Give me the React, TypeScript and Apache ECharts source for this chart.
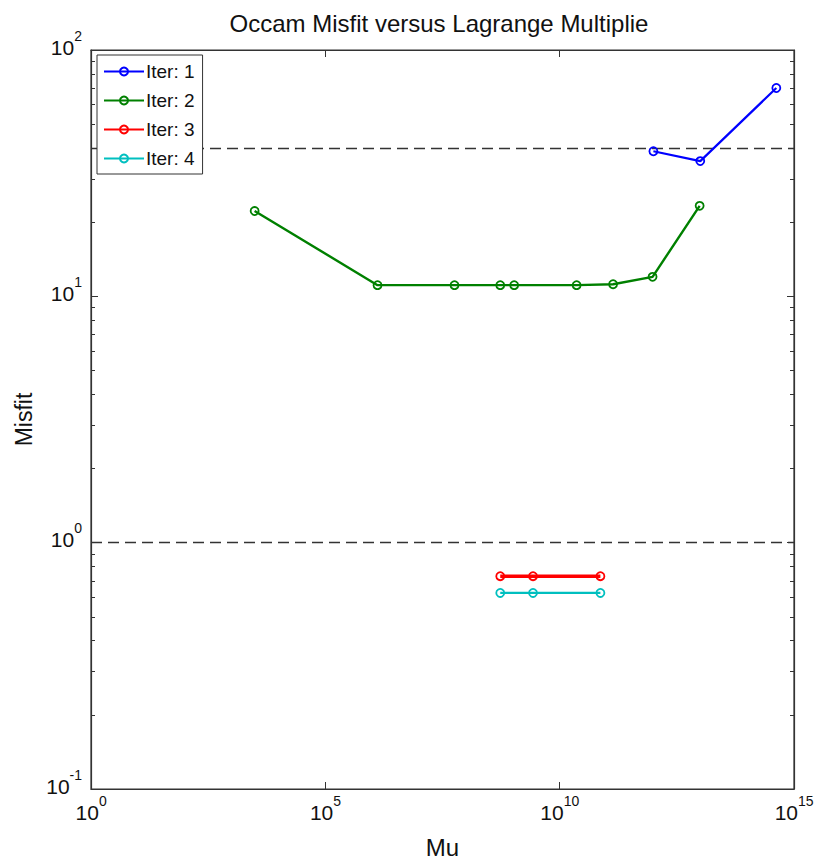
import React, { useEffect, useRef } from "react";
import * as echarts from "echarts";

const mu1 = [1e12, 1e13, 4.2e14];
const misfit1 = [38.8, 35.4, 70.1];
const mu2 = [3.1e3, 1.3e6, 5.7e7, 5.4e8, 1.07e9, 2.3e10, 1.38e11, 9.6e11, 9.7e12];
const misfit2 = [22.2, 11.1, 11.1, 11.1, 11.1, 11.1, 11.2, 12.0, 23.3];
const mu3 = [5.4e8, 2.7e9, 7.4e10];
const misfit3 = [0.731, 0.731, 0.731];
const mu4 = [5.4e8, 2.7e9, 7.4e10];
const misfit4 = [0.625, 0.625, 0.625];
const targetLines = [40, 1];

const seriesNames = ["Iter: 1", "Iter: 2", "Iter: 3", "Iter: 4"];
const xTicks = [1, 1e5, 1e10, 1e15];
const yTicks = [0.1, 1, 10, 100];
const yMinorTicks = [
  0.2, 0.3, 0.4, 0.5, 0.6, 0.7, 0.8, 0.9,
  2, 3, 4, 5, 6, 7, 8, 9,
  20, 30, 40, 50, 60, 70, 80, 90,
];

const FONT = "'Liberation Sans', Arial, Helvetica, sans-serif";
const AXIS_COLOR = "#333";

// log-scale extents suffer float rounding (log(1e15)/log(10) < 15), so nudge edge values inward a hair
const nudge = (vals: number[]) =>
  vals.map((v, i) => (i === vals.length - 1 ? v * (1 - 1e-9) : i === 0 ? v * (1 + 1e-9) : v));

const powLabel = (v: number) => `{s| }{b|10}{e|${Math.round(Math.log10(v))}}`;
const powRich = {
  b: { fontSize: 21, fontFamily: FONT, color: "#111", lineHeight: 20, verticalAlign: "bottom" },
  e: { fontSize: 14, fontFamily: FONT, color: "#111", lineHeight: 14, verticalAlign: "top" },
  s: { fontSize: 1, lineHeight: 29, verticalAlign: "top" },
};

const pairs = (xs: number[], ys: number[]) => xs.map((x, i) => [x, ys[i]]);

export default function App() {
  const ref = useRef<HTMLDivElement>(null);
  useEffect(() => {
    if (!ref.current) return;
    const chart = echarts.init(ref.current, null, { renderer: "svg" });
    const mkSeries = (name: string, xs: number[], ys: number[], color: string, width: number, extra: any = {}) => ({
      name,
      type: "line",
      data: pairs(xs, ys),
      symbol: "circle",
      symbolSize: 8,
      showSymbol: true,
      lineStyle: { color, width },
      itemStyle: { color: "rgba(255,255,255,0)", borderColor: color, borderWidth: 1.8 },
      emphasis: { disabled: true },
      z: 3,
      ...extra,
    });
    const baseX = {
      type: "log",
      logBase: 10,
      min: 1,
      max: 1e15,
      splitLine: { show: false },
      axisLine: { show: true, lineStyle: { color: AXIS_COLOR, width: 1.2 } },
    };
    const baseY = {
      type: "log",
      logBase: 10,
      min: 0.1,
      max: 100,
      splitLine: { show: false },
    };
    chart.setOption({
      animation: false,
      backgroundColor: "#fff",
      title: {
        text: "Occam Misfit versus Lagrange Multiplie",
        left: 434,
        textAlign: "center",
        top: 6,
        textStyle: { fontFamily: FONT, fontSize: 24, fontWeight: "normal", color: "#111" },
      },
      legend: {
        data: seriesNames,
        orient: "vertical",
        left: 97,
        top: 55,
        padding: [7, 8, 6, 6],
        itemGap: 10,
        itemWidth: 40,
        itemHeight: 10,
        backgroundColor: "#fff",
        borderColor: AXIS_COLOR,
        borderWidth: 1,
        textStyle: { fontFamily: FONT, fontSize: 19, color: "#111", padding: [0, 0, 0, -3] },
      },
      grid: {
        left: 91,
        right: 22,
        top: 50,
        bottom: 75,
        show: true,
        borderColor: AXIS_COLOR,
        borderWidth: 1.2,
        containLabel: false,
        outerBoundsMode: "none",
      },
      xAxis: [
        {
          ...baseX,
          position: "bottom",
          name: "Mu",
          nameLocation: "middle",
          nameGap: 46,
          nameTextStyle: { fontFamily: FONT, fontSize: 24, color: "#111" },
          axisTick: { show: true, inside: true, length: 7, customValues: nudge(xTicks), lineStyle: { color: AXIS_COLOR } },
          axisLabel: {
            show: true,
            customValues: nudge(xTicks),
            formatter: powLabel,
            rich: powRich,
            margin: 5,
            overflow: "none",
            showMaxLabel: true,
            showMinLabel: true,
            hideOverlap: false,
          },
        },
        {
          ...baseX,
          position: "top",
          axisTick: { show: true, inside: true, length: 7, customValues: nudge(xTicks), lineStyle: { color: AXIS_COLOR } },
          axisLabel: { show: false },
        },
      ],
      yAxis: [
        {
          ...baseY,
          position: "left",
          name: "Misfit",
          nameLocation: "middle",
          nameGap: 50,
          nameTextStyle: { fontFamily: FONT, fontSize: 23, color: "#111" },
          axisLine: { show: true, lineStyle: { color: AXIS_COLOR, width: 1.2 } },
          axisTick: { show: true, inside: true, length: 7, customValues: nudge(yTicks), lineStyle: { color: AXIS_COLOR } },
          axisLabel: {
            show: true,
            customValues: nudge(yTicks),
            formatter: powLabel,
            rich: powRich,
            margin: 9,
            padding: [0, 0, 14, 0],
            overflow: "none",
            showMaxLabel: true,
            showMinLabel: true,
            hideOverlap: false,
          },
        },
        {
          ...baseY,
          position: "left",
          axisLine: { show: false },
          axisTick: { show: true, inside: true, length: 4, customValues: yMinorTicks, lineStyle: { color: AXIS_COLOR } },
          axisLabel: { show: false },
        },
        {
          ...baseY,
          position: "right",
          axisLine: { show: true, lineStyle: { color: AXIS_COLOR, width: 1.2 } },
          axisTick: { show: true, inside: true, length: 7, customValues: nudge(yTicks), lineStyle: { color: AXIS_COLOR } },
          axisLabel: { show: false },
        },
        {
          ...baseY,
          position: "right",
          axisLine: { show: false },
          axisTick: { show: true, inside: true, length: 4, customValues: yMinorTicks, lineStyle: { color: AXIS_COLOR } },
          axisLabel: { show: false },
        },
      ],
      series: [
        mkSeries(seriesNames[0], mu1, misfit1, "#0000ff", 2.2, {
          markLine: {
            silent: true,
            symbol: ["none", "none"],
            label: { show: false },
            lineStyle: { color: "#333", type: [11, 6], width: 1.4 },
            data: targetLines.map((v) => ({ yAxis: v })),
            z: 1,
          },
        }),
        mkSeries(seriesNames[1], mu2, misfit2, "#008000", 2.4),
        mkSeries(seriesNames[2], mu3, misfit3, "#ff0000", 3.5),
        mkSeries(seriesNames[3], mu4, misfit4, "#00bfbf", 2.2),
      ],
    });
    return () => chart.dispose();
  }, []);
  return (
    <div
      ref={ref}
      style={{ position: "absolute", left: 0, top: 0, width: 816, height: 864, overflow: "visible" }}
    />
  );
}
